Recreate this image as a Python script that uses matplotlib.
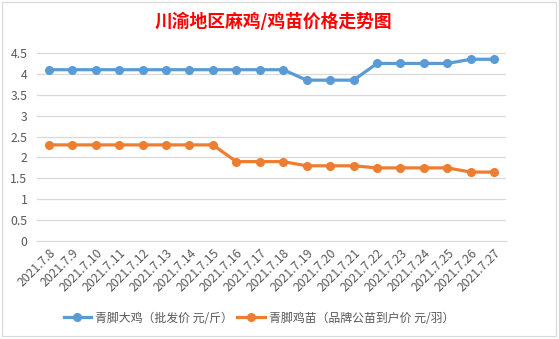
import matplotlib.pyplot as plt
from matplotlib.patches import Rectangle

plt.rcParams['font.family'] = ['Noto Sans CJK SC', 'DejaVu Sans']

dates = ['2021.7.8', '2021.7.9', '2021.7.10', '2021.7.11', '2021.7.12',
         '2021.7.13', '2021.7.14', '2021.7.15', '2021.7.16', '2021.7.17',
         '2021.7.18', '2021.7.19', '2021.7.20', '2021.7.21', '2021.7.22',
         '2021.7.23', '2021.7.24', '2021.7.25', '2021.7.26', '2021.7.27']
chicken = [4.1, 4.1, 4.1, 4.1, 4.1, 4.1, 4.1, 4.1, 4.1, 4.1,
           4.1, 3.85, 3.85, 3.85, 4.25, 4.25, 4.25, 4.25, 4.35, 4.35]
chick = [2.3, 2.3, 2.3, 2.3, 2.3, 2.3, 2.3, 2.3, 1.9, 1.9,
         1.9, 1.8, 1.8, 1.8, 1.75, 1.75, 1.75, 1.75, 1.65, 1.65]
names = ['青脚大鸡（批发价 元/斤）', '青脚鸡苗（品牌公苗到户价 元/羽）']

text_color = '#595959'

fig = plt.figure(figsize=(5.59, 3.39), dpi=100)
fig.patches.append(Rectangle((2 / 559, 3 / 339), 554 / 559, 334 / 339,
                             transform=fig.transFigure, fill=False,
                             edgecolor='#D9D9D9', linewidth=0.8))

ax = fig.add_axes([37 / 559, 1 - 241 / 339, 469 / 559, 188 / 339])
x = list(range(len(dates)))
ax.plot(x, chicken, color='#5B9BD5', linewidth=2.3, marker='o',
        markersize=5.5, label=names[0])
ax.plot(x, chick, color='#ED7D31', linewidth=2.3, marker='o',
        markersize=5.5, label=names[1])

ax.set_xlim(-0.5, len(dates) - 0.5)
ax.set_ylim(0, 4.5)
ax.set_yticks([0, 0.5, 1, 1.5, 2, 2.5, 3, 3.5, 4, 4.5])
ax.set_yticklabels(['0', '0.5', '1', '1.5', '2', '2.5', '3', '3.5', '4', '4.5'])
ax.set_xticks(x)
ax.set_xticklabels(dates, rotation=45, ha='right', rotation_mode='anchor')
ax.grid(axis='y', color='#D9D9D9', linewidth=0.9)
ax.set_axisbelow(True)
for s in ['top', 'right', 'left']:
    ax.spines[s].set_visible(False)
ax.spines['bottom'].set_color('#D9D9D9')
ax.tick_params(axis='both', length=0, colors=text_color, labelsize=8.8)
ax.tick_params(axis='x', pad=4)
ax.tick_params(axis='y', pad=7)

fig.text(0.5 - 6 / 559, 1 - 22 / 339, '川渝地区麻鸡/鸡苗价格走势图', color='#FF0000',
         fontsize=12.8, fontweight='bold', ha='center', va='center')

fig.legend(loc='center', bbox_to_anchor=(0.463, 1 - 318 / 339), ncol=2,
           frameon=False, fontsize=8.6, labelcolor=text_color,
           handlelength=2.3, columnspacing=0.4, handletextpad=0.3)

fig.savefig('out.png', dpi=100)
